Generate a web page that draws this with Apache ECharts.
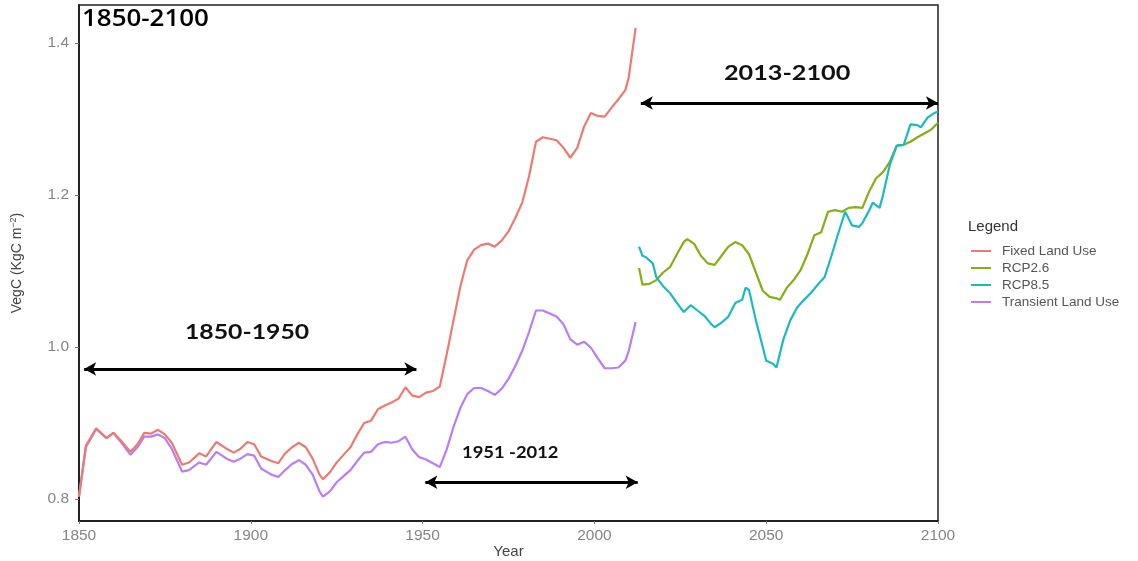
<!DOCTYPE html>
<html>
<head>
<meta charset="utf-8">
<script src="https://cdn.jsdelivr.net/npm/echarts@6/dist/echarts.min.js"></script>
<style>html,body{margin:0;padding:0;background:#fff}#c{width:1138px;height:561px}</style>
</head>
<body>
<div id="c"></div>
<script>
// ---- Data ----
const histYears = [1850,1852,1855,1858,1860,1862,1865,1867,1869,1871,1873,1875,1877,1880,1882,1885,1887,1890,1893,1895,1897,1899,1901,1903,1906,1908,1910,1912,1914,1916,1918,1920,1921,1923,1925,1927,1929,1931,1933,1935,1937,1939,1941,1943,1945,1947,1949,1951,1953,1955,1957,1959,1961,1963,1965,1967,1969,1971,1973,1975,1977,1979,1981,1983,1985,1987,1989,1991,1993,1995,1997,1999,2001,2003,2005,2007,2009,2010,2012];
const fixedLandUse = [0.803,0.870,0.893,0.880,0.887,0.878,0.862,0.872,0.887,0.886,0.891,0.885,0.874,0.845,0.848,0.860,0.856,0.875,0.866,0.861,0.866,0.875,0.872,0.856,0.850,0.847,0.860,0.868,0.874,0.868,0.853,0.832,0.826,0.835,0.848,0.858,0.868,0.885,0.900,0.903,0.918,0.923,0.927,0.932,0.947,0.936,0.934,0.940,0.942,0.948,0.990,1.035,1.080,1.114,1.128,1.134,1.136,1.132,1.140,1.152,1.170,1.190,1.225,1.270,1.276,1.274,1.272,1.262,1.249,1.262,1.290,1.308,1.304,1.303,1.315,1.326,1.338,1.355,1.420];
const transientLandUse = [0.803,0.868,0.892,0.880,0.887,0.876,0.858,0.868,0.882,0.882,0.885,0.880,0.866,0.836,0.838,0.848,0.845,0.862,0.853,0.849,0.853,0.859,0.857,0.840,0.832,0.829,0.838,0.846,0.851,0.845,0.832,0.810,0.803,0.810,0.822,0.830,0.838,0.850,0.861,0.862,0.872,0.875,0.874,0.876,0.882,0.865,0.855,0.852,0.847,0.842,0.865,0.895,0.920,0.938,0.946,0.946,0.942,0.937,0.945,0.958,0.975,0.995,1.020,1.048,1.048,1.044,1.040,1.030,1.010,1.003,1.007,0.999,0.985,0.972,0.972,0.973,0.982,0.995,1.033];

const rcp26Years = [2013,2014,2016,2018,2020,2022,2024,2026,2027,2029,2031,2033,2035,2037,2039,2041,2043,2045,2047,2049,2051,2053,2054,2056,2058,2060,2062,2064,2066,2068,2070,2072,2074,2076,2078,2080,2082,2084,2086,2088,2090,2092,2094,2096,2098,2100];
const rcp26 = [1.104,1.082,1.083,1.088,1.098,1.105,1.122,1.138,1.142,1.136,1.120,1.110,1.108,1.120,1.132,1.138,1.134,1.122,1.098,1.074,1.066,1.064,1.062,1.078,1.088,1.101,1.122,1.147,1.151,1.178,1.180,1.178,1.183,1.184,1.183,1.205,1.222,1.230,1.244,1.265,1.266,1.270,1.276,1.281,1.286,1.295];

const rcp85Years = [2013,2014,2015,2017,2018,2020,2022,2024,2026,2028,2030,2032,2034,2035,2037,2039,2041,2043,2044,2045,2047,2049,2050,2052,2053,2055,2057,2059,2061,2063,2065,2067,2069,2071,2073,2075,2077,2078,2080,2081,2083,2084,2086,2088,2090,2092,2094,2095,2097,2099,2100];
const rcp85 = [1.132,1.120,1.118,1.110,1.092,1.080,1.071,1.058,1.046,1.055,1.048,1.041,1.030,1.026,1.032,1.040,1.058,1.062,1.078,1.075,1.035,1.000,0.982,0.978,0.973,1.010,1.035,1.052,1.062,1.071,1.082,1.092,1.120,1.150,1.178,1.160,1.158,1.163,1.180,1.190,1.183,1.200,1.240,1.265,1.266,1.293,1.292,1.289,1.302,1.308,1.310];

const seriesNames = ['Fixed Land Use','RCP2.6','RCP8.5','Transient Land Use'];
const xTicks = [1850,1900,1950,2000,2050,2100];
const yTicks = [0.8,1.0,1.2,1.4];

// Period annotations: [startYear, endYear, level]
const period1 = [1851.5, 1948.2, 0.971];
const period2 = [1950.8, 2012.6, 0.822];
const period3 = [2013.5, 2100, 1.321];

const colors = {'Fixed Land Use':'#EA7B74','RCP2.6':'#86AD1A','RCP8.5':'#1DB9C1','Transient Land Use':'#BA7DF2'};

function pairs(xs, ys){ return xs.map((x,i)=>[x, ys[i]]); }
function lineSeries(name, data){
  return {name, type:'line', data, showSymbol:false, symbol:'none', smooth:false,
    lineStyle:{width:2.2, color:colors[name]}, itemStyle:{color:colors[name]}, z:3};
}
function arrowLine(p){
  return [{coord:[p[0],p[2]]},{coord:[p[1],p[2]]}];
}

const chart = echarts.init(document.getElementById('c'), null, {renderer:'canvas'});
chart.setOption({
  animation:false,
  backgroundColor:'#fff',
  grid:{left:79, right:200, top:5, bottom:40, show:true, borderColor:'#222', borderWidth:1.5, containLabel:false, outerBoundsMode:'none'},
  xAxis:{type:'value', min:1850, max:2100, interval:50,
    name:'Year', nameLocation:'middle', nameGap:23, nameMoveOverlap:false,
    nameTextStyle:{fontFamily:'Liberation Sans', fontSize:15, color:'#444'},
    axisLine:{show:true, onZero:false, lineStyle:{color:'#222', width:2}},
    axisTick:{show:true, length:3, lineStyle:{color:'#777'}},
    axisLabel:{fontFamily:'Liberation Sans', fontSize:15.5, color:'#858585', margin:7, formatter:v=>String(v)},
    splitLine:{show:false}},
  yAxis:{type:'value', min:0.771, max:1.45,
    name:'{a|VegC (KgC m}{s|−2}{a|)}', nameLocation:'middle', nameGap:53, nameRotate:90, nameMoveOverlap:false,
    nameTextStyle:{rich:{a:{fontFamily:'Liberation Sans', fontSize:14, color:'#444'}, s:{fontFamily:'Liberation Sans', fontSize:9, color:'#444', verticalAlign:'top', padding:[0,0,8,0]}}},
    axisLine:{show:true, onZero:false, lineStyle:{color:'#222', width:2}},
    axisTick:{show:true, length:4, customValues:yTicks, lineStyle:{color:'#777'}},
    axisLabel:{fontFamily:'Liberation Sans', fontSize:15.5, color:'#858585', margin:10, customValues:yTicks, formatter:v=>v.toFixed(1)},
    splitLine:{show:false}},
  legend:{orient:'vertical', left:966, top:239, data:seriesNames, icon:'rect', itemWidth:20, itemHeight:2, itemGap:3,
    textStyle:{fontFamily:'Liberation Sans', fontSize:13.5, color:'#555', lineHeight:14, padding:[0,0,0,6]}, selectedMode:false},
  series:[
    lineSeries('Transient Land Use', pairs(histYears, transientLandUse)),
    lineSeries('Fixed Land Use', pairs(histYears, fixedLandUse)),
    lineSeries('RCP2.6', pairs(rcp26Years, rcp26)),
    lineSeries('RCP8.5', pairs(rcp85Years, rcp85)),
    {name:'periods', type:'line', data:[], silent:true, z:5,
      markLine:{silent:true, symbol:['arrow','arrow'], symbolSize:[10,12], label:{show:false},
        lineStyle:{color:'#000', width:3, type:'solid'}, emphasis:{disabled:true},
        data:[arrowLine(period1), arrowLine(period2), arrowLine(period3)]}}
  ],
  graphic:[
    {type:'text', x:82, y:7, scaleX:1.08, style:{text:'1850-2100', font:'600 24px "Open Sans", sans-serif', fill:'#000'}},
    {type:'text', x:185, y:322, scaleX:1.18, style:{text:'1850-1950', font:'bold 21px Lato, sans-serif', fill:'#111'}},
    {type:'text', x:462, y:444, scaleX:1.08, style:{text:'1951 -2012', font:'bold 17px Lato, sans-serif', fill:'#111'}},
    {type:'text', x:724, y:63, scaleX:1.2, style:{text:'2013-2100', font:'bold 21px Lato, sans-serif', fill:'#111'}},
    {type:'text', x:968, y:219, style:{text:'Legend', font:'15px "Liberation Sans", sans-serif', fill:'#333'}}
  ]
});
</script>
</body>
</html>
